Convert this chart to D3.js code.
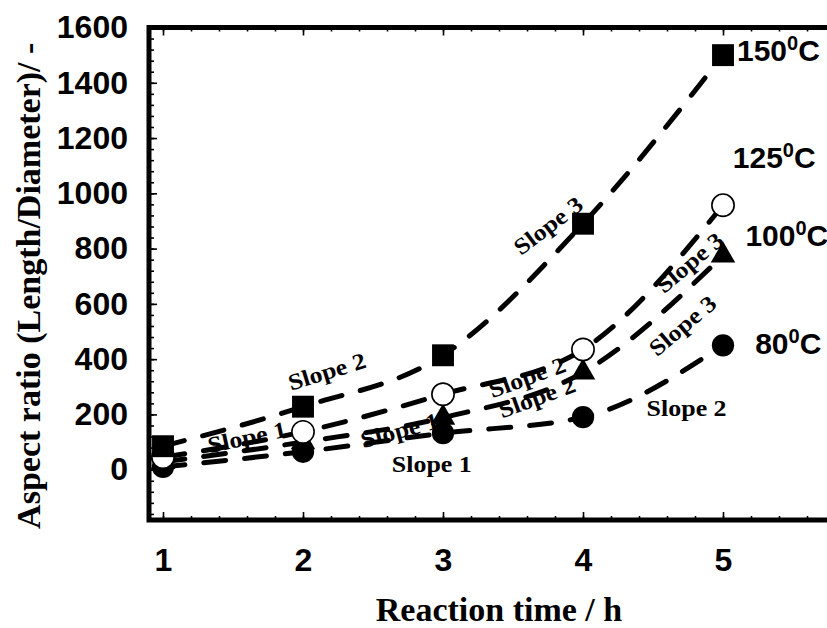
<!DOCTYPE html>
<html>
<head>
<meta charset="utf-8">
<script src="https://cdn.jsdelivr.net/npm/d3@7"></script>
<style>
  body { margin: 0; background: #fff; }
  svg { display: block; }
</style>
</head>
<body>
<div id="chart"></div>
<script>
// reaction time (h) and aspect ratio per temperature
const times = [1, 2, 3, 4, 5];
const ar150 = [85, 228, 414, 890, 1500];
const ar125 = [45, 137, 273, 435, 957];
const ar100 = [28, 100, 188, 352, 775];
const ar80 = [10, 65, 132, 190, 450];

const tempNames = ["150", "125", "100", "80"];
const tempLabelPos = [[5.1, 1480], [5.07, 1090], [5.16, 811], [5.23, 417]];

const yTicks = [0, 200, 400, 600, 800, 1000, 1200, 1400, 1600];
const xTicks = [1, 2, 3, 4, 5];

// slope annotations: text, time, value, angle
const slopeNotes = [
    ["Slope 3", 3.75, 884, -37],
    ["Slope 2", 2.17, 356, -17],
    ["Slope 1", 1.6, 118, -12],
    ["Slope 1", 2.69, 143, -15],
    ["Slope 1", 2.92, 20, 0],
    ["Slope 2", 3.6, 335, -20],
    ["Slope 2", 3.67, 262, -20],
    ["Slope 3", 4.76, 750, -40],
    ["Slope 3", 4.71, 522, -40],
    ["Slope 2", 4.74, 222, 0]
];

const width = 827, height = 628;
const svg = d3.select("#chart").append("svg").attr("width", width).attr("height", height);

const x = d3.scaleLinear().domain([0.9, 6]).range([149, 863]);
const y = d3.scaleLinear().domain([-182, 1600]).range([520, 27.5]);

const x0 = x.range()[0], x1 = x.range()[1], yb = y.range()[0], yt = y.range()[1];

// slope labels go under the lines
svg.append("g").selectAll("text").data(slopeNotes).join("text")
    .attr("transform", d => `translate(${x(d[1])},${y(d[2])}) rotate(${d[3]})`)
    .attr("text-anchor", "middle").attr("dy", "0.35em")
    .attr("textLength", 80).attr("lengthAdjust", "spacingAndGlyphs")
    .style("font-family", "'Liberation Serif', 'Times New Roman', serif")
    .style("font-weight", "700").style("font-size", "23px")
    .text(d => d[0]);

// axes
function styleAxis(g) {
    g.select(".domain").remove();
    g.selectAll(".tick line").attr("stroke", "#000").attr("stroke-width", 1.6);
    g.selectAll(".tick text").style("font-family", "'Liberation Sans', Arial, sans-serif")
        .style("font-weight", "700").style("font-size", "32px").attr("fill", "#000");
}

svg.append("g").attr("transform", `translate(${x0},0)`)
    .call(d3.axisLeft(y).tickValues(d3.range(-160, 1601, 40)).tickSize(-5).tickFormat(""))
    .call(styleAxis);
svg.append("g").attr("transform", `translate(${x0},0)`)
    .call(d3.axisLeft(y).tickValues(yTicks).tickSizeInner(-8).tickSizeOuter(0).tickPadding(21).tickFormat(d3.format("d")))
    .call(styleAxis);

svg.append("g").attr("transform", `translate(0,${yb})`)
    .call(d3.axisBottom(x).tickValues(d3.range(1, 6.01, 0.2)).tickSize(-4).tickFormat(""))
    .call(styleAxis);
svg.append("g").attr("transform", `translate(0,${yb})`)
    .call(d3.axisBottom(x).tickValues(xTicks).tickSizeInner(-8).tickSizeOuter(0).tickPadding(28).tickFormat(d3.format("d")))
    .call(styleAxis);

svg.append("g").attr("transform", `translate(0,${yt})`)
    .call(d3.axisTop(x).tickValues(d3.range(1, 6.01, 0.2)).tickSize(-4).tickFormat(""))
    .call(styleAxis);
svg.append("g").attr("transform", `translate(0,${yt})`)
    .call(d3.axisTop(x).tickValues(xTicks).tickSize(-8).tickFormat(""))
    .call(styleAxis);

// frame (left, top, bottom; right side runs off the page)
svg.append("rect").attr("x", x0).attr("y", yt).attr("width", x1 - x0).attr("height", yb - yt)
    .attr("fill", "none").attr("stroke", "#000").attr("stroke-width", 5);

// series, bottom-most drawn first
const series = [
    { name: "100", values: ar100, symbol: d3.symbolTriangle, size: 260, fill: "#000" },
    { name: "80", values: ar80, symbol: d3.symbolCircle, size: 390, fill: "#000" },
    { name: "125", values: ar125, symbol: d3.symbolCircle, size: 390, fill: "#fff" },
    { name: "150", values: ar150, symbol: d3.symbolSquare, size: 480, fill: "#000" }
];

const line = d3.line().x(d => x(d[0])).y(d => y(d[1])).curve(d3.curveMonotoneX);

svg.append("g").selectAll("path").data(series).join("path")
    .attr("d", s => line(times.map((t, i) => [t, s.values[i]])))
    .attr("fill", "none").attr("stroke", "#000").attr("stroke-width", 5)
    .attr("stroke-dasharray", "22,19").attr("stroke-linecap", "round");

series.forEach(s => {
    svg.append("g").selectAll("path").data(times).join("path")
        .attr("transform", (t, i) => `translate(${x(t)},${y(s.values[i])})`)
        .attr("d", d3.symbol().type(s.symbol).size(s.size))
        .attr("fill", s.fill).attr("stroke", "#000").attr("stroke-width", s.fill === "#fff" ? 1.6 : 0);
});

// temperature labels
const tl = svg.append("g").selectAll("text").data(tempNames).join("text")
    .attr("x", (d, i) => x(tempLabelPos[i][0])).attr("y", (d, i) => y(tempLabelPos[i][1]))
    .style("font-family", "'Liberation Sans', Arial, sans-serif")
    .style("font-weight", "700").style("font-size", "30px");
tl.append("tspan").text(d => d);
tl.append("tspan").attr("dy", -11).style("font-size", "20px").text("0");
tl.append("tspan").attr("dy", 11).text("C");

// axis titles
svg.append("text").attr("x", x(3.4)).attr("y", 621)
    .attr("text-anchor", "middle")
    .style("font-family", "'Liberation Serif', 'Times New Roman', serif")
    .style("font-weight", "700").style("font-size", "34px")
    .text("Reaction time / h");

svg.append("text").attr("transform", `translate(40,${(yt + yb) / 2 + 12}) rotate(-90)`)
    .attr("text-anchor", "middle")
    .style("font-family", "'Liberation Serif', 'Times New Roman', serif")
    .style("font-weight", "700").style("font-size", "34px")
    .text("Aspect ratio (Length/Diameter)/ -");
</script>
</body>
</html>
